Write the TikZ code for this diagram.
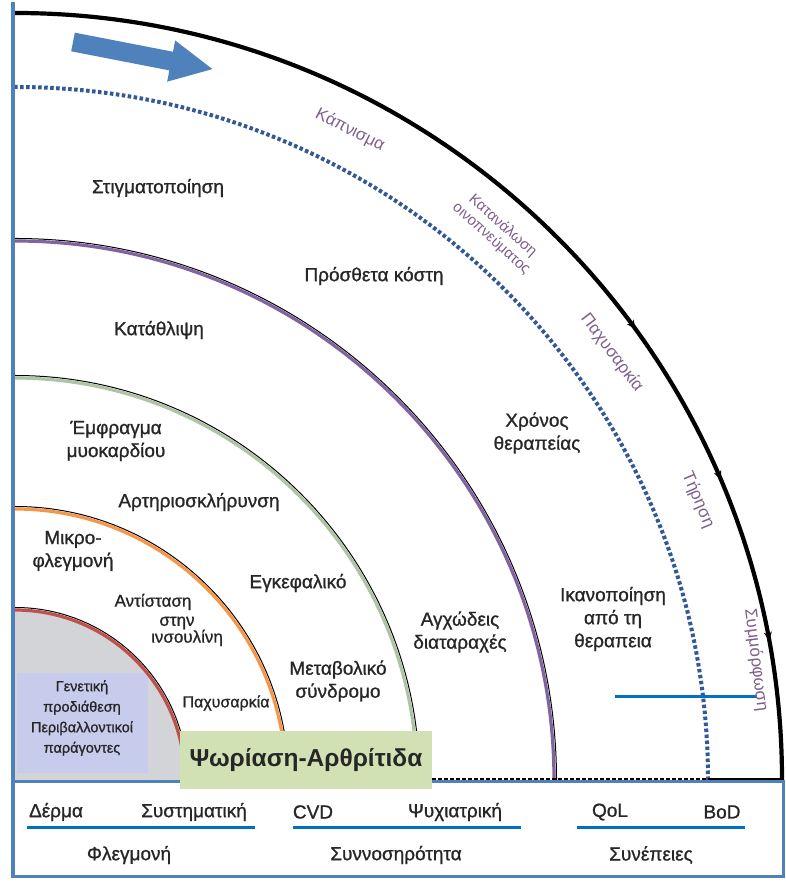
\documentclass[tikz,border=0pt]{standalone}
\usepackage{fontspec}
\setmainfont{Liberation Sans}
\newfontfamily\semib[FakeBold=1]{Liberation Sans}
\usetikzlibrary{decorations.markings,arrows.meta}
\definecolor{frameblue}{RGB}{79,129,189}
\definecolor{lineblue}{RGB}{0,112,192}
\definecolor{dotblue}{RGB}{50,88,150}
\definecolor{diskgray}{RGB}{210,212,215}
\definecolor{lavbox}{RGB}{200,204,236}
\definecolor{redarc}{RGB}{192,80,77}
\definecolor{orarc}{RGB}{247,150,70}
\definecolor{grarc}{RGB}{175,195,165}
\definecolor{purarc}{RGB}{128,100,162}
\definecolor{titlegreen}{RGB}{210,225,180}
\definecolor{ringtext}{RGB}{125,95,140}
\begin{document}
\begin{tikzpicture}[x=1pt,y=1pt,
  lbl/.style={font=\semib\fontsize{19}{23}\selectfont, align=center, inner sep=0pt, text=black!85},
  smalllbl/.style={font=\semib\fontsize{17}{20}\selectfont, align=center, inner sep=0pt, text=black!85},
  ringlbl/.style={font=\fontsize{17}{18}\selectfont, align=center, inner sep=0pt, text=ringtext},
  botlbl/.style={font=\semib\fontsize{19}{20}\selectfont, inner sep=0pt, text=black!85},
  uline/.style={draw=lineblue, line width=3pt},
  arcline/.style={line width=3.2pt},
  arcedge/.style={draw=black, line width=1pt}]
\useasboundingbox (0,0) rectangle (785,882);
% innermost filled quarter disk
\fill[diskgray] (15,102) -- (185,102) arc[start angle=0,end angle=90,radius=170] -- cycle;
\fill[lavbox] (17,109) rectangle (148,209);
% red arc
\draw[arcedge] (187.5,102) arc[start angle=0,end angle=90,radius=172.5];
\draw[arcline, redarc] (185,102) arc[start angle=0,end angle=90,radius=170];
% orange arc
\draw[arcedge] (288.5,102) arc[start angle=0,end angle=90,radius=273.5];
\draw[arcline, orarc] (286,102) arc[start angle=0,end angle=90,radius=271];
% green-gray arc
\draw[arcedge] (419.5,102) arc[start angle=0,end angle=90,radius=404.5];
\draw[arcline, grarc] (417,102) arc[start angle=0,end angle=90,radius=402];
% purple arc
\draw[arcedge] (556.5,102) arc[start angle=0,end angle=90,radius=541.5];
\draw[arcline, purarc] (554,102) arc[start angle=0,end angle=90,radius=539];
% dotted arc
\draw[dotblue, line width=4pt, dash pattern=on 3.5pt off 2.5pt] (708,102) arc[start angle=0,end angle=90,radius=693];
% outer black arc
\draw[black, line width=4.2pt, postaction={decorate},
  decoration={markings,
    mark=at position 0.4 with {\arrowreversed{Stealth[length=9pt,width=8pt]}},
    mark=at position 0.256 with {\arrowreversed{Stealth[length=9pt,width=8pt]}},
    mark=at position 0.116 with {\arrowreversed{Stealth[length=9pt,width=8pt]}}}]
  (782,102) arc[start angle=0,end angle=90,radius=767];
% baseline
\draw[black, line width=1.4pt, dash pattern=on 4pt off 2pt] (432,103) -- (708,103);
\draw[black, line width=1.8pt] (708,103) -- (783,103);
% blue horizontal line in upper area
\draw[uline] (615,185) -- (757,185);
% big arrow
\begin{scope}[shift={(73,840)}, rotate=-11]
\fill[frameblue] (0,9.5) -- (100,9.5) -- (100,21) -- (142,0) -- (100,-21) -- (100,-9.5) -- (0,-9.5) -- cycle;
\end{scope}
% bottom frame
\draw[frameblue, line width=3pt] (12,5) rectangle (783,100);
\draw[frameblue, line width=4.5pt] (13,4) -- (13,880);
% title box
\node[fill=titlegreen, minimum width=252pt, minimum height=58pt, inner sep=0pt,
  font=\fontsize{24.5}{26}\selectfont\bfseries, text=black!85] (title) at (306,122) {Ψωρίαση-Αρθρίτιδα};
% labels
\node[lbl] (stig) at (158,694) {Στιγματοποίηση};
\node[lbl] (kost) at (374,606) {Πρόσθετα κόστη};
\node[lbl] (katath) at (159,552) {Κατάθλιψη};
\node[lbl] (emfr) at (116,441) {Έμφραγμα\\μυοκαρδίου};
\node[lbl] (arter) at (199,380) {Αρτηριοσκλήρυνση};
\node[lbl] (mikro) at (73,331) {Μικρο-\\φλεγμονή};
\node[lbl] (egkef) at (298,299) {Εγκεφαλικό};
\node[smalllbl] (antist) at (153,280) {Αντίσταση};
\node[smalllbl] (stin) at (177,259) {στην};
\node[smalllbl] (insul) at (187,244) {ινσουλίνη};
\node[smalllbl, font=\semib\fontsize{16}{20}\selectfont] (paxin) at (226,179) {Παχυσαρκία};
\node[lbl] (metab) at (338,201) {Μεταβολικό\\σύνδρομο};
\node[smalllbl, font=\semib\fontsize{14.5}{20.5}\selectfont] (genet) at (82,164) {Γενετική\\προδιάθεση\\Περιβαλλοντικοί\\παράγοντες};
\node[lbl] (agx) at (460,250) {Αγχώδεις\\διαταραχές};
\node[lbl] (ikan) at (613,263) {Ικανοποίηση\\από τη\\θεραπεια};
\node[lbl] (xron) at (537,449) {Χρόνος\\θεραπείας};
% ring labels
\node[ringlbl, rotate=-27] (kapn) at (350,752) {Κάπνισμα};
\node[ringlbl, rotate=-42, font=\fontsize{15}{17}\selectfont] (katan) at (497,650) {Κατανάλωση\\οινοπνεύματος};
\node[ringlbl, rotate=-53] (paxout) at (612,529) {Παχυσαρκία};
\node[ringlbl, rotate=-67] (tir) at (698,382) {Τήρηση};
\node[ringlbl, rotate=-83] (symm) at (756,222) {Συμμόρφωση};
% bottom labels
\node[botlbl] (derma) at (56,70) {Δέρμα};
\node[botlbl] (syst) at (194,70) {Συστηματική};
\node[botlbl] (cvd) at (313,70) {CVD};
\node[botlbl] (psyx) at (455,70) {Ψυχιατρική};
\node[botlbl] (qol) at (610,70) {QoL};
\node[botlbl] (bod) at (722,70) {BoD};
\draw[uline] (27,54) -- (255,54);
\draw[uline] (293,54) -- (521,54);
\draw[uline] (577,54) -- (745,54);
\node[botlbl] (flegm) at (129,27) {Φλεγμονή};
\node[botlbl] (synn) at (396,27) {Συννοσηρότητα};
\node[botlbl] (synep) at (651,27) {Συνέπειες};
\end{tikzpicture}
\end{document}
